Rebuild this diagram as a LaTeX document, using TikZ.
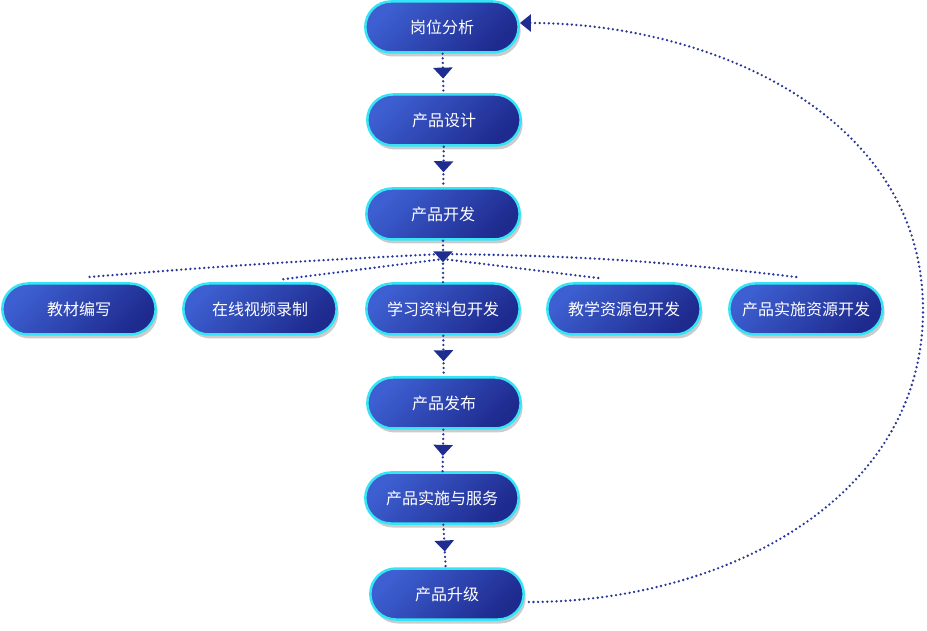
\documentclass[tikz,border=0pt]{standalone}
\usepackage{fontspec}
\setmainfont{Noto Sans CJK SC}
\usetikzlibrary{shapes.misc,shadows,arrows.meta,decorations.markings}
\definecolor{pillLight}{HTML}{3D5FD1}
\definecolor{pillDark}{HTML}{1E2A8E}
\definecolor{pillRim}{HTML}{35E4F5}
\definecolor{dotBlue}{HTML}{27379A}
\definecolor{tipBlue}{HTML}{1F2D90}
\tikzset{
  pill/.style={rounded rectangle, minimum width=160pt, minimum height=51pt,
    draw=pillRim, line width=2.5pt, top color=pillLight, bottom color=pillDark,
    shading angle=45, text=white, font=\fontsize{16}{19}\selectfont,
    drop shadow={shadow xshift=2pt, shadow yshift=-4pt, fill=black, opacity=0.2}},
  dots/.style={dotBlue, line width=2.6pt, line cap=round, dash pattern=on 0pt off 4.6pt},
  midtip/.style={postaction={decorate}, decoration={markings,
    mark=at position #1 with {\arrow{Triangle[width=19pt,length=11pt,color=tipBlue]}}}},
}
\begin{document}
\begin{tikzpicture}[x=1pt,y=1pt]
\useasboundingbox (0,0) rectangle (927,630);
% main column
\node[pill] (gw) at (442,603) {岗位分析};
\node[pill] (sj) at (444,510) {产品设计};
\node[pill] (kf) at (443,416) {产品开发};
\node[pill] (fb) at (444,227) {产品发布};
\node[pill] (fw) at (442,132) {产品实施与服务};
\node[pill] (sjj) at (447,36) {产品升级};
% development row
\foreach \x/\nm/\txt in {79/jc/教材编写, 260/sp/在线视频录制, 443/xx/学习资料包开发,
  624/jx/教学资源包开发, 806/ss/产品实施资源开发}
  \node[pill] (\nm) at (\x,321) {\txt};
\coordinate (hubT) at (443,376);
\coordinate (hubB) at (443,371);
\coordinate (loopR) at (923,320);
% branches
\draw[dots] (hubT) to[bend right=1] ([xshift=7pt,yshift=5pt]jc.north);
\draw[dots] (hubB) -- ([xshift=23pt,yshift=3pt]sp.north);
\draw[dots] (hubB) -- ([xshift=-24pt,yshift=4pt]jx.north);
\draw[dots] (hubT) to[bend left=3] ([xshift=-8pt,yshift=5pt]ss.north);
% flow
\draw[dots,midtip=0.63] (gw) -- (sj);
\draw[dots,midtip=0.63] (sj) -- (kf);
\draw[dots,midtip=0.52] (kf) -- (xx);
\draw[dots,midtip=0.63] (xx) -- (fb);
\draw[dots,midtip=0.63] (fb) -- (fw);
\draw[dots,midtip=0.63] (fw) -- (sjj);
% feedback
\draw[dots,-{Triangle[width=17pt,length=11pt,color=tipBlue]}] ([xshift=4pt,yshift=-8pt]sjj.east)
  to[out=0,in=-90] (loopR) to[out=90,in=0] ([yshift=4pt]gw.east);
\end{tikzpicture}
\end{document}
